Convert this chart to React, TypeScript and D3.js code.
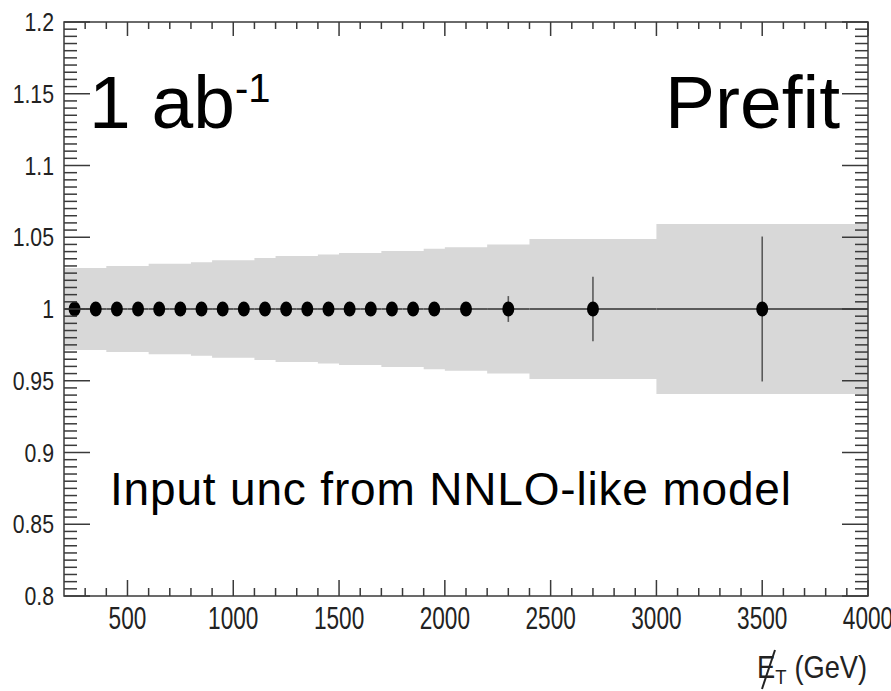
import React from "react";
import * as d3 from "d3";

// ---- data ----
const binEdges = [200, 300, 400, 500, 600, 700, 800, 900, 1000, 1100, 1200, 1300, 1400, 1500, 1600, 1700, 1800, 1900, 2000, 2200, 2400, 3000, 4000];
const pointCenters = [250, 350, 450, 550, 650, 750, 850, 950, 1050, 1150, 1250, 1350, 1450, 1550, 1650, 1750, 1850, 1950, 2100, 2300, 2700, 3500];
const pointValues = [1, 1, 1, 1, 1, 1, 1, 1, 1, 1, 1, 1, 1, 1, 1, 1, 1, 1, 1, 1, 1, 1];
const pointErrors = [0.002, 0.002, 0.002, 0.002, 0.002, 0.002, 0.002, 0.002, 0.002, 0.002, 0.002, 0.002, 0.002, 0.002, 0.002, 0.002, 0.002, 0.002, 0.004, 0.009, 0.0225, 0.0505];
const bandErrors = [0.0285, 0.0285, 0.030, 0.030, 0.0315, 0.0315, 0.0325, 0.034, 0.034, 0.0355, 0.037, 0.037, 0.038, 0.039, 0.039, 0.0405, 0.0405, 0.042, 0.043, 0.045, 0.0487, 0.0593];
const xMajorTicks = [500, 1000, 1500, 2000, 2500, 3000, 3500, 4000];
const xTickLabels = ["500", "1000", "1500", "2000", "2500", "3000", "3500", "4000"];
const yMajorTicks = [0.8, 0.85, 0.9, 0.95, 1, 1.05, 1.1, 1.15, 1.2];
const yTickLabels = ["0.8", "0.85", "0.9", "0.95", "1", "1.05", "1.1", "1.15", "1.2"];

const FONT = "'Liberation Sans', Arial, Helvetica, sans-serif";

export default function App() {
  const W = 891, H = 691;
  const L = 64, R = 868, T = 22, B = 596;
  const x = d3.scaleLinear().domain([200, 4000]).range([L, R]);
  const y = d3.scaleLinear().domain([0.8, 1.2]).range([B, T]);

  const xMinor = d3.range(300, 4000, 100).filter((v) => v % 500 !== 0);
  const yMinor = d3.range(0, 81).map((i) => 0.8 + i * 0.005).filter((v, i) => i % 10 !== 0);

  // band as one stepped area
  const bandPts = binEdges.map((e, i) => ({ x: e, err: bandErrors[Math.min(i, bandErrors.length - 1)], v: pointValues[Math.min(i, pointValues.length - 1)] }));
  const bandArea = d3.area<any>()
    .x((d) => x(d.x))
    .y0((d) => y(d.v - d.err))
    .y1((d) => y(d.v + d.err))
    .curve(d3.curveStepAfter);

  const axisColor = "#3a3a3a";
  const lineColor = "#5a5a5a";

  return (
    <svg width={W} height={H} style={{ position: "absolute", left: 0, top: 0, background: "#fff" }} fontFamily={FONT}>
      <path d={bandArea(bandPts) || ""} fill="#d8d8d8" />
      {/* horizontal error bars */}
      {pointCenters.map((c, i) => (
        <line key={"h" + i} x1={x(binEdges[i])} x2={x(binEdges[i + 1])} y1={y(pointValues[i])} y2={y(pointValues[i])}
          stroke={lineColor} strokeWidth={2} />
      ))}
      {/* vertical error bars */}
      {pointCenters.map((c, i) => (
        <line key={"v" + i} x1={x(c)} x2={x(c)} y1={y(pointValues[i] + pointErrors[i])} y2={y(pointValues[i] - pointErrors[i])}
          stroke={lineColor} strokeWidth={1.6} />
      ))}
      {/* markers */}
      {pointCenters.map((c, i) => (
        <ellipse key={"p" + i} cx={x(c)} cy={y(pointValues[i])} rx={6} ry={7.5} fill="#000" />
      ))}

      {/* frame */}
      <rect x={L} y={T} width={R - L} height={B - T} fill="none" stroke={axisColor} strokeWidth={1.5} />

      {/* x ticks bottom & top */}
      {xMajorTicks.map((v) => (
        <g key={"xm" + v}>
          <line x1={x(v)} x2={x(v)} y1={B} y2={B - 16} stroke={axisColor} strokeWidth={1.5} />
          <line x1={x(v)} x2={x(v)} y1={T} y2={T + 14} stroke={axisColor} strokeWidth={1.5} />
        </g>
      ))}
      {xMinor.map((v) => (
        <g key={"xn" + v}>
          <line x1={x(v)} x2={x(v)} y1={B} y2={B - 8} stroke={axisColor} strokeWidth={1.5} />
          <line x1={x(v)} x2={x(v)} y1={T} y2={T + 7} stroke={axisColor} strokeWidth={1.5} />
        </g>
      ))}
      {/* y ticks left & right */}
      {yMajorTicks.map((v) => (
        <g key={"ym" + v}>
          <line x1={L} x2={L + 26} y1={y(v)} y2={y(v)} stroke={axisColor} strokeWidth={1.5} />
          <line x1={R} x2={R - 26} y1={y(v)} y2={y(v)} stroke={axisColor} strokeWidth={1.5} />
        </g>
      ))}
      {yMinor.map((v, i) => (
        <g key={"yn" + i}>
          <line x1={L} x2={L + 13} y1={y(v)} y2={y(v)} stroke={axisColor} strokeWidth={1.5} />
          <line x1={R} x2={R - 13} y1={y(v)} y2={y(v)} stroke={axisColor} strokeWidth={1.5} />
        </g>
      ))}

      {/* x tick labels */}
      {xMajorTicks.map((v, i) => (
        <g key={"xl" + v} transform={`translate(${x(v)},629) scale(0.73,1)`}>
          <text textAnchor="middle" fontSize={31} fill="#222">{xTickLabels[i]}</text>
        </g>
      ))}
      {/* y tick labels */}
      {yMajorTicks.map((v, i) => (
        <g key={"yl" + v} transform={`translate(54,${y(v) + 9}) scale(0.85,1)`}>
          <text textAnchor="end" fontSize={25} fill="#222">{yTickLabels[i]}</text>
        </g>
      ))}

      {/* axis title */}
      <g transform="translate(757,678) scale(0.88,1)">
        <text fontSize={31} fill="#222">
          E<tspan fontSize={21} dy={6}>T</tspan>
          <tspan dy={-6} dx={9}>(GeV)</tspan>
        </text>
      </g>
      <line x1={775} y1={650} x2={762} y2={689} stroke="#222" strokeWidth={2} />

      {/* annotations */}
      <text x={89} y={128} fontSize={75} fill="#000">
        1 ab<tspan fontSize={40} dy={-26}>-1</tspan>
      </text>
      <text x={840} y={128} fontSize={75} textAnchor="end" fill="#000">Prefit</text>
      <text x={110} y={505} fontSize={46} fill="#000" textLength={681} lengthAdjust="spacing">Input unc from NNLO-like model</text>
    </svg>
  );
}
